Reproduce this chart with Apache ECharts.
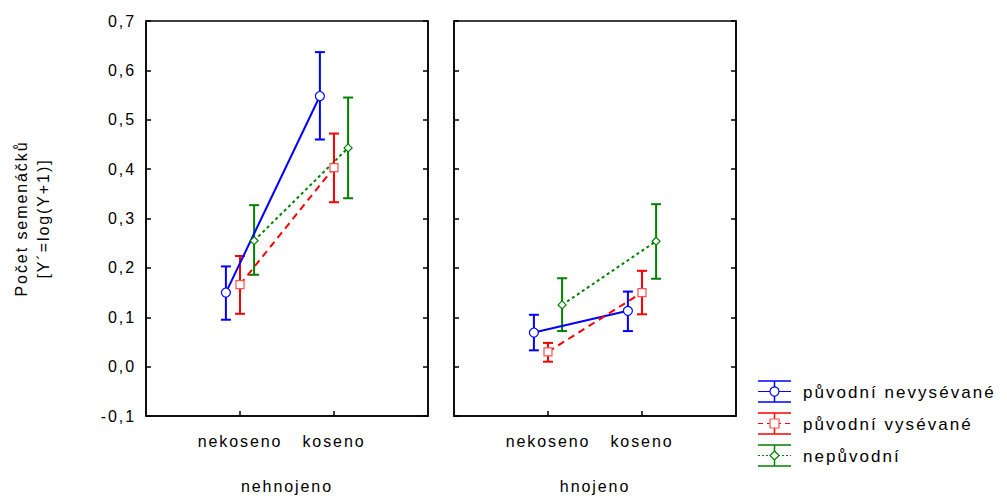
<!DOCTYPE html>
<html>
<head>
<meta charset="utf-8">
<script src="https://cdn.jsdelivr.net/npm/echarts@6/dist/echarts.min.js"></script>
<style>
    html, body { margin: 0; padding: 0; background: #fff; }
    #main { width: 1007px; height: 499px; }
    /* the original output has wide letter spacing */
    #main svg text { letter-spacing: 0.12em; }
</style>
</head>
<body>
<div id="main"></div>
<script>
//--------------------data---------------------------
var groups = ['nehnojeno', 'hnojeno'];
var categories = ['nekoseno', 'koseno'];
var seriesNames = ['původní nevysévané', 'původní vysévané', 'nepůvodní'];
var yTicks = [-0.1, 0, 0.1, 0.2, 0.3, 0.4, 0.5, 0.6, 0.7];

// order: nehnojeno-nekoseno, nehnojeno-koseno, hnojeno-nekoseno, hnojeno-koseno
var nevysevaneMean = [0.150, 0.548, 0.069, 0.113];
var nevysevaneLow  = [0.095, 0.460, 0.033, 0.072];
var nevysevaneHigh = [0.203, 0.637, 0.105, 0.152];

var vysevaneMean = [0.166, 0.403, 0.030, 0.150];
var vysevaneLow  = [0.107, 0.333, 0.010, 0.106];
var vysevaneHigh = [0.224, 0.472, 0.048, 0.194];

var nepuvodniMean = [0.255, 0.443, 0.125, 0.254];
var nepuvodniLow  = [0.186, 0.341, 0.072, 0.178];
var nepuvodniHigh = [0.327, 0.545, 0.179, 0.329];
//--------------------data---------------------------

var FONT = "'Liberation Sans', Arial, sans-serif";
var means = [nevysevaneMean, vysevaneMean, nepuvodniMean];
var lows = [nevysevaneLow, vysevaneLow, nepuvodniLow];
var highs = [nevysevaneHigh, vysevaneHigh, nepuvodniHigh];
var colors = ['#0000ff', '#ff0000', '#008000'];
var markerBorder = ['#0000ff', '#ff5050', '#008000'];
var symbols = ['circle', 'rect', 'diamond'];
var symbolSizes = [9, 8, 8];
var lineTypes = ['solid', [7, 5], [3, 3]];
var offsets = [-0.15, 0, 0.15];

var myChart = echarts.init(document.getElementById('main'), null, {renderer: 'svg'});

function fmt(v){
    return v.toFixed(1).replace('.', ',');
}

//--------------------error bars-------------------
function renderErr(params, api){
    var x = api.value(0);
    var pHi = api.coord([x, api.value(2)]);
    var pLo = api.coord([x, api.value(1)]);
    var st = {stroke: api.visual('color'), lineWidth: 2};
    return {
        type: 'group',
        children: [
            {type: 'line', shape: {x1: pHi[0], y1: pHi[1], x2: pLo[0], y2: pLo[1]}, style: st},
            {type: 'line', shape: {x1: pHi[0] - 5, y1: pHi[1], x2: pHi[0] + 5, y2: pHi[1]}, style: st},
            {type: 'line', shape: {x1: pLo[0] - 5, y1: pLo[1], x2: pLo[0] + 5, y2: pLo[1]}, style: st}
        ]
    };
}

var grids = [], xAxes = [], yAxes = [], series = [];
var lefts = [146, 454];

for (var g = 0; g < groups.length; g++) {
    grids.push({
        left: lefts[g], top: 21, width: 282, height: 397,
        show: true, borderColor: '#000', borderWidth: 1.5, backgroundColor: '#fff'
    });
    xAxes.push({
        type: 'value', gridIndex: g, min: 0, max: 3,
        name: groups[g], nameLocation: 'middle', nameGap: 62,
        nameTextStyle: {color: '#000', fontSize: 16, fontFamily: FONT},
        axisLine: {show: true, onZero: false, lineStyle: {color: '#000', width: 1.5}},
        axisTick: {show: true, inside: true, length: 5, customValues: [1, 2], lineStyle: {color: '#000', width: 1.5}},
        axisLabel: {
            customValues: [1, 2], margin: 17, color: '#000', fontSize: 16, fontFamily: FONT,
            formatter: function(v){ return categories[Math.round(v) - 1] || ''; }
        },
        splitLine: {show: false}
    });
    // left axis
    yAxes.push({
        type: 'value', gridIndex: g, position: 'left', min: -0.1, max: 0.7, interval: 0.1,
        name: g === 0 ? 'Počet semenáčků\n[Y´=log(Y+1)]' : '',
        nameLocation: 'middle', nameRotate: 90, nameGap: 92,
        nameTextStyle: {color: '#000', fontSize: 16, fontFamily: FONT, lineHeight: 22, align: 'center'},
        axisLine: {show: true, onZero: false, lineStyle: {color: '#000', width: 1.5}},
        axisTick: {show: true, inside: true, length: 5, lineStyle: {color: '#000', width: 1.5}},
        axisLabel: {show: g === 0, margin: 10, color: '#000', fontSize: 16, fontFamily: FONT, formatter: fmt},
        splitLine: {show: false}
    });
    // right axis, ticks only
    yAxes.push({
        type: 'value', gridIndex: g, position: 'right', min: -0.1, max: 0.7, interval: 0.1,
        axisLine: {show: true, onZero: false, lineStyle: {color: '#000', width: 1.5}},
        axisTick: {show: true, inside: true, length: 5, lineStyle: {color: '#000', width: 1.5}},
        axisLabel: {show: false},
        splitLine: {show: false}
    });

    for (var s = 0; s < seriesNames.length; s++) {
        var lineData = [], errData = [];
        for (var c = 0; c < categories.length; c++) {
            var k = g * categories.length + c;
            lineData.push([c + 1 + offsets[s], means[s][k]]);
            errData.push([c + 1 + offsets[s], lows[s][k], highs[s][k]]);
        }
        series.push({
            name: seriesNames[s], type: 'custom', xAxisIndex: g, yAxisIndex: g * 2,
            renderItem: renderErr, data: errData, encode: {x: 0, y: [1, 2]},
            itemStyle: {color: colors[s]}, z: 2, silent: true
        });
        series.push({
            name: seriesNames[s], type: 'line', xAxisIndex: g, yAxisIndex: g * 2,
            data: lineData, symbol: symbols[s], symbolSize: symbolSizes[s], showSymbol: true,
            lineStyle: {color: colors[s], width: 2, type: lineTypes[s]},
            itemStyle: {color: '#fff', borderColor: markerBorder[s], borderWidth: 1.2},
            z: 3, silent: true
        });
    }
}

//--------------------legend (drawn by hand, error bar glyph)-------------------
var legendItems = [];
for (var i = 0; i < seriesNames.length; i++) {
    var yTop = 381 + i * 32, yMid = yTop + 10.5, yBot = yTop + 21;
    var cx = 774.5, x1 = 758, x2 = 791;
    var solid = {stroke: colors[i], lineWidth: 1.5};
    var mk;
    if (i === 0) {
        mk = {type: 'circle', shape: {cx: cx, cy: yMid, r: 4.5}, style: {fill: '#fff', stroke: colors[i], lineWidth: 1.2}};
    } else if (i === 1) {
        mk = {type: 'rect', shape: {x: cx - 4.5, y: yMid - 4.5, width: 9, height: 9}, style: {fill: '#fff', stroke: markerBorder[i], lineWidth: 1.2}};
    } else {
        mk = {type: 'polygon', shape: {points: [[cx, yMid - 4.5], [cx + 4.5, yMid], [cx, yMid + 4.5], [cx - 4.5, yMid]]}, style: {fill: '#fff', stroke: colors[i], lineWidth: 1.2}};
    }
    legendItems.push({
        type: 'group',
        children: [
            {type: 'line', shape: {x1: x1, y1: yTop, x2: x2, y2: yTop}, style: solid},
            {type: 'line', shape: {x1: x1, y1: yBot, x2: x2, y2: yBot}, style: solid},
            {type: 'line', shape: {x1: cx, y1: yTop, x2: cx, y2: yBot}, style: solid},
            {type: 'line', shape: {x1: x1, y1: yMid, x2: x2, y2: yMid},
                style: {stroke: colors[i], lineWidth: 1.2, lineDash: i === 0 ? null : (i === 1 ? [5, 4] : [2, 2])}},
            mk,
            {type: 'text', x: 803, y: yMid + 1,
                style: {text: seriesNames[i], fill: '#000', fontSize: 17, fontFamily: FONT, textVerticalAlign: 'middle'}}
        ]
    });
}

option = {
    backgroundColor: '#fff',
    animation: false,
    grid: grids,
    xAxis: xAxes,
    yAxis: yAxes,
    series: series,
    graphic: legendItems
};
myChart.setOption(option);
</script>
</body>
</html>
